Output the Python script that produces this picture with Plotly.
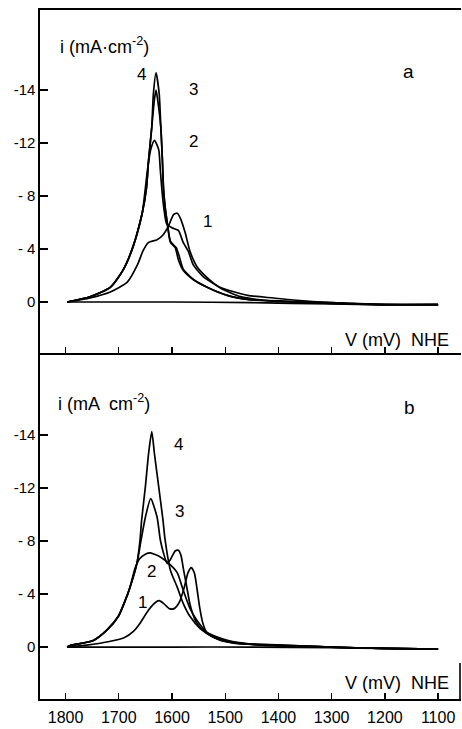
import plotly.graph_objects as go

W, H = 462, 729

# ---------------- data (potential in mV vs NHE, current magnitude in axis units) ----------------
# Panel a
a1_v = [1797, 1754, 1716, 1684, 1665, 1654, 1644, 1628, 1616, 1607, 1597, 1590, 1584, 1575, 1566, 1552, 1533, 1509, 1471, 1430, 1300, 1200, 1100]
a1_i = [0, 0.3, 0.75, 1.5, 2.8, 3.9, 4.5, 4.7, 5.1, 5.7, 6.6, 6.7, 6.3, 5.2, 3.8, 2.6, 1.8, 1.05, 0.4, 0.15, -0.05, -0.2, -0.2]

a2_v = [1797, 1754, 1716, 1692, 1673, 1656, 1650, 1646, 1640, 1633, 1625, 1622, 1619, 1615, 1610, 1600, 1588, 1579, 1569, 1560, 1541, 1509, 1458, 1409, 1372, 1300, 1200, 1100]
a2_i = [0, 0.4, 1.1, 2.4, 4.2, 6.7, 8.6, 10.0, 11.5, 12.2, 11.5, 10.0, 8.5, 7.0, 5.9, 5.6, 5.4, 4.5, 3.8, 2.8, 1.9, 1.1, 0.5, 0.3, 0.15, -0.05, -0.2, -0.2]

a3_v = [1797, 1754, 1716, 1692, 1673, 1656, 1648, 1644, 1638, 1633, 1630, 1627, 1621, 1618, 1616, 1613, 1609, 1603, 1597, 1592, 1586, 1579, 1560, 1533, 1496, 1458, 1400, 1300, 1200, 1100]
a3_i = [0, 0.4, 1.1, 2.4, 4.2, 6.7, 8.6, 10.7, 13.2, 15.3, 16.0, 15.3, 13.2, 10.7, 8.6, 7.2, 6.0, 4.6, 4.3, 4.1, 3.4, 2.5, 1.7, 1.1, 0.5, 0.2, 0.05, -0.1, -0.2, -0.2]

a4_v = [1797, 1754, 1716, 1692, 1673, 1656, 1648, 1644, 1638, 1635, 1630, 1624, 1621, 1618, 1616, 1613, 1609, 1603, 1594, 1588, 1579, 1560, 1533, 1496, 1458, 1400, 1300, 1200, 1100]
a4_i = [0, 0.4, 1.1, 2.4, 4.2, 6.7, 8.6, 10.7, 13.2, 15.7, 17.3, 15.7, 13.2, 10.7, 8.6, 7.2, 6.0, 4.5, 4.1, 3.2, 2.4, 1.7, 1.1, 0.5, 0.2, 0.05, -0.1, -0.2, -0.2]

a0_v = [1797, 1600, 1450, 1300, 1200, 1100]
a0_i = [0, 0, -0.05, -0.15, -0.2, -0.2]

# Panel b
b1_v = [1797, 1760, 1720, 1690, 1672, 1660, 1644, 1630, 1624, 1616, 1605, 1596, 1586, 1577, 1570, 1564, 1558, 1553, 1548, 1542, 1534, 1509, 1450, 1302, 1208, 1100]
b1_i = [0, 0.15, 0.4, 0.7, 1.2, 1.8, 2.8, 3.4, 3.5, 3.3, 2.9, 2.9, 3.4, 4.5, 5.6, 6.0, 5.6, 4.4, 3.0, 1.8, 1.05, 0.5, 0.2, 0, -0.1, -0.15]

b2_v = [1797, 1792, 1748, 1722, 1701, 1688, 1679, 1669, 1660, 1650, 1641, 1622, 1603, 1590, 1579, 1566, 1553, 1534, 1496, 1434, 1302, 1208, 1100]
b2_i = [0, 0.1, 0.5, 1.3, 2.3, 3.5, 4.5, 6.0, 6.7, 7.0, 7.1, 6.8, 6.2, 5.6, 4.3, 2.9, 2.0, 1.1, 0.5, 0.15, 0, -0.1, -0.15]

b3_v = [1797, 1792, 1748, 1722, 1701, 1688, 1679, 1666, 1658, 1650, 1640, 1628, 1622, 1616, 1609, 1603, 1594, 1588, 1583, 1579, 1573, 1566, 1556, 1543, 1519, 1481, 1396, 1302, 1208, 1100]
b3_i = [0, 0.1, 0.5, 1.3, 2.3, 3.5, 4.5, 6.3, 8.1, 9.8, 11.2, 9.8, 8.1, 7.1, 6.3, 6.6, 7.25, 7.3, 6.9, 6.0, 4.7, 3.2, 2.0, 1.3, 0.7, 0.3, 0.15, 0, -0.1, -0.15]

b4_v = [1797, 1792, 1748, 1722, 1701, 1688, 1679, 1666, 1660, 1657, 1650, 1644, 1638, 1633, 1625, 1617, 1613, 1603, 1590, 1579, 1566, 1547, 1522, 1485, 1396, 1302, 1208, 1100]
b4_i = [0, 0.1, 0.5, 1.3, 2.3, 3.5, 4.5, 6.3, 8.1, 9.6, 12.1, 14.6, 16.25, 14.6, 12.1, 9.6, 8.1, 5.8, 4.5, 3.3, 2.3, 1.4, 0.75, 0.3, 0.15, 0, -0.1, -0.15]

b0_v = [1797, 1600, 1450, 1300, 1200, 1100]
b0_i = [0, 0, 0, -0.05, -0.1, -0.15]

x_ticks = [1800, 1700, 1600, 1500, 1400, 1300, 1200, 1100]
y_tickvals = [0, 4, 8, 12, 16]
y_ticktext = ["0", "- 4", "- 8", "-12", "-14"]

# ---------------- figure ----------------
FONT = "Liberation Sans, Arial, sans-serif"

fig = go.Figure()

def add(v, i, xa, ya, w=1.7):
    fig.add_trace(go.Scatter(x=v, y=i, mode="lines", xaxis=xa, yaxis=ya,
                             line=dict(color="black", width=w, shape="spline", smoothing=0.6),
                             showlegend=False, hoverinfo="skip"))

for v, i in [(a0_v, a0_i), (a1_v, a1_i), (a2_v, a2_i), (a3_v, a3_i), (a4_v, a4_i)]:
    add(v, i, "x", "y")
for v, i in [(b0_v, b0_i), (b1_v, b1_i), (b2_v, b2_i), (b3_v, b3_i), (b4_v, b4_i)]:
    add(v, i, "x2", "y2")

def px(x):
    return x / W

def py(y):
    return 1 - y / H

xdom = [px(40), px(461)]

common_x = dict(range=[1848, 1057], tickvals=x_ticks, ticks="inside", ticklen=6, tickwidth=1.3,
                tickcolor="black", showline=True, linecolor="black", linewidth=1.6,
                showgrid=False, zeroline=False, domain=xdom,
                tickfont=dict(family=FONT, size=16, color="black"))
common_y = dict(tickvals=y_tickvals, ticktext=y_ticktext, ticks="inside", ticklen=8, tickwidth=1.3,
                tickcolor="black", showline=True, linecolor="black", linewidth=1.6,
                showgrid=False, zeroline=False,
                tickfont=dict(family=FONT, size=15, color="black"))

fig.update_layout(
    width=W, height=H,
    margin=dict(l=0, r=0, t=0, b=0),
    paper_bgcolor="white", plot_bgcolor="white",
    xaxis=dict(common_x, anchor="y", showticklabels=False, mirror=True),
    yaxis=dict(common_y, anchor="x", domain=[py(353), py(10)], range=[-3.85, 22.04]),
    xaxis2=dict(common_x, anchor="y2", showticklabels=True, ticklabelstandoff=3),
    yaxis2=dict(common_y, anchor="x2", domain=[py(699), py(353)], range=[-3.92, 22.19]),
)

def label(text, x, y, size=17):
    fig.add_annotation(text=text, x=px(x), y=py(y), xref="paper", yref="paper",
                       showarrow=False, xanchor="center", yanchor="middle",
                       font=dict(family=FONT, size=size, color="black"))

# axis titles
label("i (mA·cm<sup>-2</sup>)", 104, 45, 18)
label("i (mA  cm<sup>-2</sup>)", 104, 402, 18)
label("V (mV)  NHE", 397, 340, 18)
label("V (mV)  NHE", 397, 683, 18)
# panel letters
label("a", 408, 71, 19)
label("b", 409, 407, 19)
# curve labels panel a
label("4", 141, 75)
label("3", 193, 89)
label("2", 193, 142)
label("1", 207, 221)
# curve labels panel b
label("4", 178, 444)
label("3", 179, 511)
label("2", 151, 571)
label("1", 142, 602)

# short right frame piece of the lower panel
fig.add_shape(type="line", xref="paper", yref="paper", x0=px(460), x1=px(460), y0=py(663), y1=py(699),
              line=dict(color="black", width=1.6))

fig.write_html("out.html",
               config={"displayModeBar": False, "staticPlot": True},
               post_script="document.body.style.margin='0';document.body.style.overflow='hidden';")
